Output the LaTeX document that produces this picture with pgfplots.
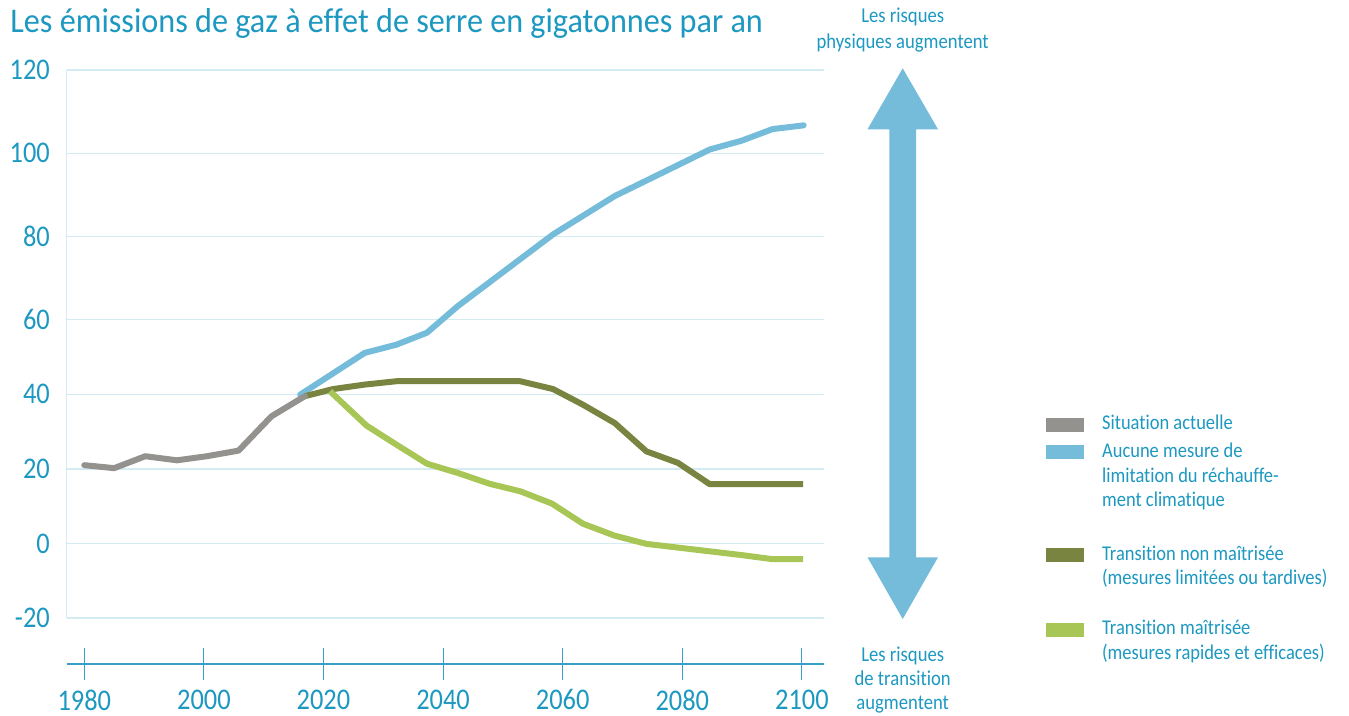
\documentclass[border=0pt]{standalone}
\usepackage{pgfplots}
\pgfplotsset{compat=1.18}
\usepackage{fontspec}
\setmainfont{Carlito}[FakeStretch=0.88, Ligatures=NoCommon]
\newfontfamily\titlefont{Carlito}[FakeStretch=0.93, Ligatures=NoCommon]
\definecolor{textblue}{HTML}{1C98C1}
\definecolor{axisblue}{HTML}{3A9FC6}
\definecolor{gridblue}{HTML}{D3ECF4}
\definecolor{skyblue}{HTML}{74BCD9}
\definecolor{grayline}{HTML}{94928E}
\definecolor{darkolive}{HTML}{7A8441}
\definecolor{lightgreen}{HTML}{A8C656}
\newcommand\legfont{\fontsize{10.5}{12}\selectfont}
\begin{document}
\begin{tikzpicture}
\path[use as bounding box] (0,0) rectangle (674.5pt,-358pt);
\begin{axis}[
  at={(33.35pt,-332pt)}, anchor=south west,
  scale only axis, width=378.65pt, height=297pt,
  xmin=1977.06, xmax=2103.7, ymin=-32.3, ymax=120,
  y coord trafo/.code={\pgfmathparse{#1>60 ? 60+(#1-60)*1.1155 : #1}},
  axis x line=bottom, axis y line=left,
  y axis line style={draw=none},
  x axis line style={draw=axisblue, line width=0.55pt, -},
  xtick={1980,2000,2020,2040,2060,2080,2100},
  xticklabels={1980,2000,2020,2040,2060,2080,2100},
  ytick={-20,0,20,40,60,80,100,120},
  yticklabels={-20,0,20,40,60,80,100,120},
  ytick style={draw=none},
  xtick style={draw=axisblue, line width=0.55pt},
  tick align=center, major tick length=15.8pt,
  ymajorgrids, grid style={gridblue, line width=0.65pt},
  ticklabel style={font=\fontsize{15}{18}\selectfont, text=textblue},
  xticklabel style={inner sep=0.5pt, yshift=-4.2pt},
  yticklabel style={xshift=3pt},
  clip=false,
  every axis plot/.append style={line width=3pt, line join=round},
]
\draw[gridblue, line width=0.65pt] (axis cs:1977.06,-20) -- (axis cs:1977.06,120);
\addplot[skyblue, line cap=round] coordinates {
(2016.1,39.9) (2026.9,51.1) (2032.2,53.3) (2037.3,56.5) (2042.5,63.3) (2058.4,80.5)
(2068.7,89.7) (2084.6,100.9) (2089.9,103.0) (2095.1,105.8) (2100.3,106.7)};
\addplot[darkolive] coordinates {
(2016.9,39.5) (2021.6,41.4) (2026.9,42.6) (2032.2,43.5) (2037.3,43.5) (2042.5,43.5)
(2047.8,43.5) (2052.9,43.5) (2058.4,41.4) (2063.4,37.2) (2068.7,32.3) (2074.0,24.7)
(2079.3,21.6) (2084.6,15.9) (2089.9,15.9) (2095.1,15.9) (2100.2,15.9)};
\addplot[lightgreen] coordinates {
(2021.1,40.8) (2027.2,31.6) (2032.2,26.5) (2037.3,21.4) (2042.5,18.9) (2047.8,16.0)
(2052.9,14.0) (2058.2,10.7) (2063.4,5.3) (2068.7,2.1) (2074.0,-0.1) (2079.3,-1.1)
(2084.6,-2.1) (2089.9,-3.1) (2095.1,-4.2) (2100.2,-4.2)};
\addplot[grayline, line cap=round] coordinates {
(1980,21.0) (1985.0,20.2) (1990.2,23.4) (1995.5,22.3) (2000.5,23.4) (2005.8,24.9)
(2011.3,34.1) (2016.9,39.5)};
\end{axis}
\begin{scope}[x=0.5pt,y=-0.5pt]
\node[anchor=base west, font=\titlefont\fontsize{17.3}{20}\selectfont, text=textblue, inner sep=0pt] at (10,32.3)
  {Les émissions de gaz à effet de serre en gigatonnes par an};
\fill[skyblue] (902.7,68.3) -- (938,129.3) -- (916,129.3) -- (916,557.3) -- (938,557.3)
  -- (902.7,619) -- (867.5,557.3) -- (889.3,557.3) -- (889.3,129.3) -- (867.5,129.3) -- cycle;
\node[align=center, font=\fontsize{10.6}{12.7}\selectfont, text=textblue] at (902.7,30)
  {Les risques\\physiques augmentent};
\node[align=center, font=\fontsize{10.6}{12}\selectfont, text=textblue, anchor=south, inner sep=0pt] at (902.7,714)
  {Les risques\\de transition\\augmentent};
\foreach \y/\c in {425/grayline,452.3/skyblue,555.3/darkolive,630/lightgreen}
  \fill[\c] (1045.7,\y-7) rectangle (1084.3,\y+7);
\foreach \y/\t in {425/Situation actuelle,452.3/Aucune mesure de,477.3/limitation du réchauffe-,
  501.7/ment climatique,555.3/Transition non maîtrisée,580/(mesures limitées ou tardives),
  630/Transition maîtrisée,655/(mesures rapides et efficaces)}
  \node[anchor=mid west, font=\legfont, text=textblue, inner sep=0pt] at (1101.7,\y) {\t};
\end{scope}
\end{tikzpicture}
\end{document}
